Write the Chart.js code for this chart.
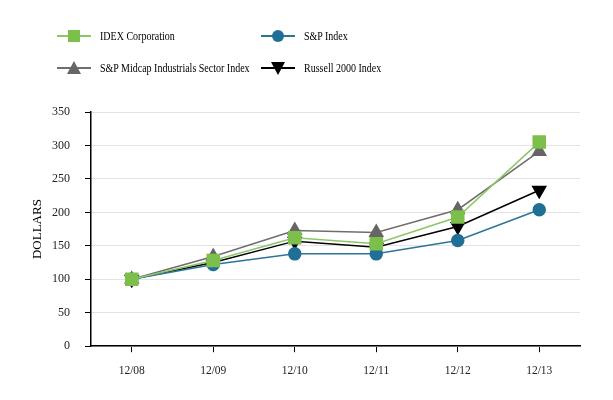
<!DOCTYPE html>
<html>
<head>
<meta charset="utf-8">
<script src="https://cdn.jsdelivr.net/npm/chart.js@4/dist/chart.umd.min.js"></script>
<style>
  body { margin: 0; background: #fff; }
  .wrap { position: relative; width: 613px; height: 400px; }
  .wrap canvas { position: absolute; left: 0; top: 0; }
  .legend { position: absolute; left: 0; top: 0; width: 613px; height: 100px; font: 12.5px "Liberation Serif", serif; color: #000; }
  .item { position: absolute; display: flex; align-items: center; white-space: nowrap; }
  .item svg { margin-right: 9px; }
  .item span { display: inline-block; transform: scaleX(0.8); transform-origin: left center; }
</style>
</head>
<body>
<div class="wrap">
  <canvas id="chart" width="613" height="400"></canvas>
  <div class="legend" id="legend"></div>
</div>
<script>
const categories = ['12/08', '12/09', '12/10', '12/11', '12/12', '12/13'];
const idex = [100, 128, 162, 153, 193, 305];
const spIndex = [100, 122, 138, 138, 158, 204];
const midcap = [100, 134, 173, 170, 204, 291];
const russell = [100, 125, 157, 148, 179, 233];
const yTicks = [0, 50, 100, 150, 200, 250, 300, 350];

const series = [
  { label: 'IDEX Corporation', data: idex, line: '#8cc665', fill: '#7cbf4a', style: 'rect', r: 8.5, rot: 0, x: 57, y: 36 },
  { label: 'S&P Index', data: spIndex, line: '#2d7499', fill: '#1f6f97', style: 'circle', r: 6, rot: 0, x: 261, y: 36 },
  { label: 'S&P Midcap Industrials Sector Index', data: midcap, line: '#6e6e6e', fill: '#666666', style: 'triangle', r: 7.5, rot: 0, x: 57, y: 68 },
  { label: 'Russell 2000 Index', data: russell, line: '#000000', fill: '#000000', style: 'triangle', r: 7.5, rot: 180, x: 261, y: 68 }
];

// legend in html, line + marker icon
let legend = document.getElementById('legend')
series.forEach(s => {
  let mark = ''
  if (s.style == 'rect') mark = `<rect x="11" y="3" width="12" height="12" fill="${s.fill}"/>`
  else if (s.style == 'circle') mark = `<circle cx="17" cy="9" r="6" fill="${s.fill}"/>`
  else if (s.rot == 0) mark = `<polygon points="17,2 24,15 10,15" fill="${s.fill}"/>`
  else mark = `<polygon points="10,3 24,3 17,16" fill="${s.fill}"/>`
  legend.innerHTML += `
    <div class="item" style="left:${s.x}px;top:${s.y - 9}px">
      <svg width="34" height="18"><line x1="0" y1="9" x2="34" y2="9" stroke="${s.line}" stroke-width="2"/>${mark}</svg>
      <span>${s.label}</span>
    </div>`
})

new Chart(document.getElementById('chart'), {
  type: 'line',
  data: {
    labels: categories,
    datasets: series.map(s => ({
      label: s.label,
      data: s.data,
      borderColor: s.line,
      borderWidth: 1.5,
      backgroundColor: s.fill,
      pointBackgroundColor: s.fill,
      pointBorderColor: s.fill,
      pointStyle: s.style,
      pointRotation: s.rot,
      pointRadius: s.r,
      pointHoverRadius: s.r,
      tension: 0
    }))
  },
  options: {
    responsive: false,
    animation: false,
    layout: { padding: { top: 112, right: 33, bottom: 10, left: 26 } },
    plugins: { legend: { display: false }, tooltip: { enabled: false } },
    scales: {
      x: {
        offset: true,
        grid: { drawOnChartArea: false, color: '#000', tickLength: 6, offset: false },
        border: { color: '#000', width: 1.5 },
        ticks: { color: '#222', padding: 12, font: { family: 'Liberation Serif', size: 11.5 } }
      },
      y: {
        min: 0,
        max: 350,
        afterBuildTicks: axis => { axis.ticks = yTicks.map(v => ({ value: v })) },
        afterFit: axis => { axis.width = 65 },
        grid: { color: '#e3e3e3', tickColor: '#000', tickLength: 6 },
        border: { color: '#000', width: 1.5 },
        ticks: { color: '#222', padding: 15, font: { family: 'Liberation Serif', size: 12 } },
        title: { display: true, text: 'DOLLARS', color: '#000', padding: { top: 4, bottom: 8 }, font: { family: 'Liberation Serif', size: 13 } }
      }
    }
  }
})
</script>
</body>
</html>
